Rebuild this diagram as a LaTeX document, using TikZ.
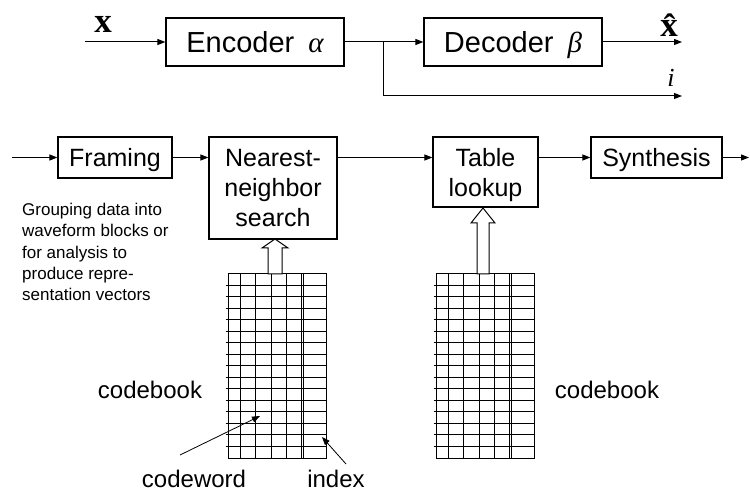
\documentclass[tikz,border=0pt]{standalone}
\usepackage{fontspec}
\setmainfont{Liberation Sans}
\newfontfamily\timesrm{Liberation Serif}
\usepackage{tikz}
\usetikzlibrary{arrows.meta}

\begin{document}
\begin{tikzpicture}[x=1pt, y=-1pt,
  block/.style={draw, line width=1.2pt, inner sep=0pt, align=center, text depth=0pt,
                font=\fontsize{25}{30}\selectfont},
  coder/.style={block, minimum width=178pt, minimum height=48pt,
                font=\fontsize{29}{34}\selectfont},
  book/.style={draw, line width=1pt, inner sep=0pt, minimum width=98pt, minimum height=184pt},
  fat/.style={draw, fill=white, line width=1pt},
  label/.style={inner sep=0pt, font=\fontsize{24}{28}\selectfont},
  wire/.style={line width=1pt},
  ]
\tikzset{>={Triangle[length=8pt, width=6pt]}}
\useasboundingbox (0,0) rectangle (750,494);

  % encoder / decoder
  \node[coder] (enc) at (255,42) {Encoder\hspace{14pt}{\timesrm\itshape α}};
  \node[coder] (dec) at (513,42) {Decoder\hspace{14pt}{\timesrm\itshape β}};

  \node[inner sep=0pt, anchor=base, font=\timesrm\bfseries\fontsize{35}{35}\selectfont] (xin) at (103,33) {x};
  \node[inner sep=0pt, anchor=base, font=\timesrm\bfseries\fontsize{35}{35}\selectfont] (xhat) at (669,37) {\^x};
  \node[inner sep=0pt, anchor=base, font=\timesrm\itshape\fontsize{26}{26}\selectfont] (idx) at (671,87) {i};

  \coordinate (src) at (85,42);
  \coordinate (split) at (383,42);
  \coordinate (rec) at (682,42);
  \coordinate (chan) at (682,96);

  \draw[wire, ->] (src) -- (enc);
  \draw[wire] (enc) -- (split);
  \draw[wire, ->] (split) -- (dec);
  \draw[wire, ->] (dec) -- (rec);
  \draw[wire, ->] (split) |- (chan);

  % processing chain
  \node[block, minimum width=114pt, minimum height=41pt] (frm) at (115,157.5) {Framing};
  \node[block, minimum width=128pt, minimum height=102pt] (nns) at (273,188) {Nearest-\\neighbor\\search};
  \node[block, minimum width=105pt, minimum height=70pt] (tbl) at (485.5,172) {Table\\lookup};
  \node[block, minimum width=131pt, minimum height=41pt] (syn) at (656.5,157.5) {Synthesis};

  \coordinate (sin) at (12,157.5);
  \coordinate (sout) at (749,157.5);

  \draw[wire, ->] (sin) -- (frm);
  \draw[wire, ->] (frm) -- (nns.west |- frm);
  \draw[wire, ->] (nns.east |- frm) -- (tbl.west |- frm);
  \draw[wire, ->] (tbl.east |- syn) -- (syn);
  \draw[wire, ->] (syn) -- (sout);

  \node[inner sep=0pt, anchor=north west, align=left,
        font=\fontsize{17}{21.3}\selectfont] (note) at (22,203)
    {Grouping data into\\waveform blocks or\\for analysis to\\produce repre-\\sentation vectors};

  % codebooks
  \node[book] (cb1) at (277,366) {};
  \node[book] (cb2) at (485,366) {};
  \foreach \b in {cb1,cb2} {
    \begin{scope}[shift={(\b.north west)}]
      \foreach \c in {13,28,44,59,74,76}
        \draw[line width=0.8pt] (\c,0) -- (\c,184);
      \foreach \r in {1,...,15}
        \draw[line width=0.8pt] (-2,\r*11.5) -- (98,\r*11.5);
    \end{scope}
  }

  % hollow arrows into the search and the lookup
  \coordinate (up1) at (275,239);
  \draw[fat] (up1) -- ++(13,9) -- ++(-6,0) -- ++(0,26) -- ++(-14,0) -- ++(0,-26) -- ++(-6,0) -- cycle;
  \coordinate (up2) at (483,208);
  \draw[fat] (up2) -- ++(12,15) -- ++(-6,0) -- ++(0,51) -- ++(-12,0) -- ++(0,-51) -- ++(-6,0) -- cycle;

  \node[label] (book1) at (150,390) {codebook};
  \node[label] (book2) at (607,390) {codebook};
  \node[label] (word) at (194,479) {codeword};
  \node[label] (index) at (336,479) {index};

  \coordinate (wordtip) at (260,416);
  \coordinate (indextip) at (322,437);
  \draw[line width=0.8pt, ->] (180,455) -- (wordtip);
  \draw[line width=0.8pt, ->] (346,464) -- (indextip);

\end{tikzpicture}
\end{document}
